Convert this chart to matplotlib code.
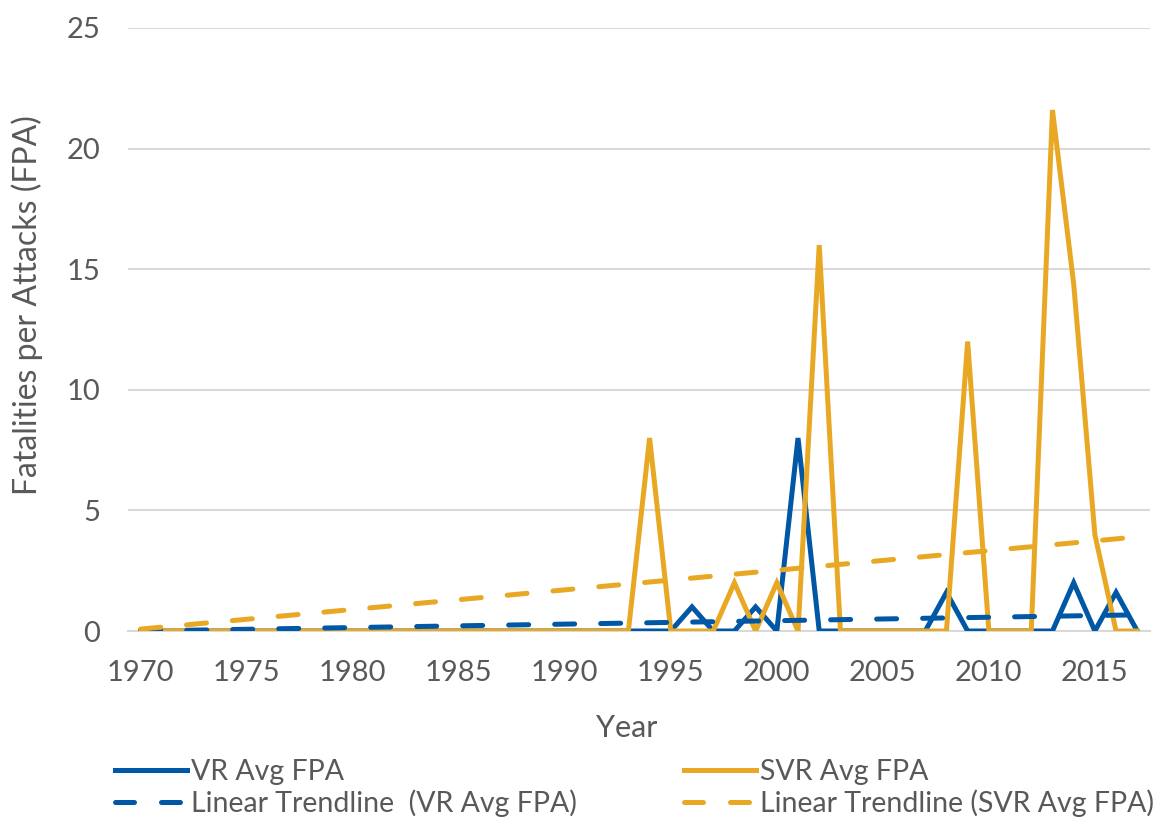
import numpy as np
import matplotlib
matplotlib.use("Agg")
import matplotlib.pyplot as plt
from matplotlib.lines import Line2D

years = list(range(1970, 2018))
vr_nonzero = {1996: 1.0, 1999: 1.0, 2001: 8.0, 2008: 1.6, 2014: 2.0, 2016: 1.6}
svr_nonzero = {1994: 8.0, 1998: 2.0, 2000: 2.0, 2002: 16.0, 2009: 12.0,
               2013: 21.6, 2014: 14.4, 2015: 4.0}
vr_avg_fpa = [vr_nonzero.get(y, 0.0) for y in years]
svr_avg_fpa = [svr_nonzero.get(y, 0.0) for y in years]

trend_years = [1970, 2017]
vr_trend = [0.0, 0.67]
svr_trend = [0.08, 3.9]

y_ticks = [0, 5, 10, 15, 20, 25]
x_ticks = [1970, 1975, 1980, 1985, 1990, 1995, 2000, 2005, 2010, 2015]

BLUE = "#0057A5"
GOLD = "#E8A823"
TXT = "#595959"
FONT = "Lato"

plt.rcParams['font.family'] = [FONT, 'DejaVu Sans']

fig = plt.figure(figsize=(11.61, 8.18), dpi=100)
ax = fig.add_axes([128/1161, 1-631/818, (1150-128)/1161, (631-28)/818])

lw = 3.6
dash = (4.0, 5.2)
ax.plot(years, vr_avg_fpa, color=BLUE, lw=lw, solid_joinstyle='miter', zorder=3)
ax.plot(years, svr_avg_fpa, color=GOLD, lw=lw, solid_joinstyle='miter', zorder=4)
ax.plot(trend_years, vr_trend, color=BLUE, lw=lw, dashes=dash,
        dash_capstyle='round', zorder=5)
ax.plot(trend_years, svr_trend, color=GOLD, lw=lw, dashes=dash,
        dash_capstyle='round', zorder=6)

ax.set_xlim(1969.4, 2017.6)
ax.set_ylim(0, 25)
ax.set_yticks(y_ticks)
ax.set_xticks(x_ticks)
ax.grid(axis='y', color='#D9D9D9', lw=1.5, zorder=0)
ax.set_axisbelow(True)
for s in ['top', 'right', 'left']:
    ax.spines[s].set_visible(False)
ax.spines['bottom'].set_color('#D9D9D9')
ax.spines['bottom'].set_linewidth(1.5)
ax.tick_params(axis='both', length=0, labelsize=21, colors=TXT)
ax.tick_params(axis='y', pad=20)
ax.tick_params(axis='x', pad=21)

fig.text(27/1161, 1-305/818, "Fatalities per Attacks (FPA)", rotation=90,
         ha='center', va='center', fontsize=23, color=TXT)
fig.text(627/1161, 1-728/818, "Year", ha='center', va='center',
         fontsize=22, color=TXT)

ldash = (3.8, 5.4)
h_vr = [Line2D([], [], color=BLUE, lw=lw),
        Line2D([], [], color=BLUE, lw=lw, dashes=ldash, dash_capstyle='round')]
h_svr = [Line2D([], [], color=GOLD, lw=lw),
         Line2D([], [], color=GOLD, lw=lw, dashes=ldash, dash_capstyle='round')]
lab_vr = ["VR Avg FPA", "Linear Trendline  (VR Avg FPA)"]
lab_svr = ["SVR Avg FPA", "Linear Trendline (SVR Avg FPA)"]

common = dict(loc='upper left', frameon=False, fontsize=20.5,
              handlelength=2.53, handletextpad=0.14, labelspacing=0.15,
              borderpad=0, borderaxespad=0)
leg1 = fig.legend(h_vr, lab_vr, bbox_to_anchor=(115/1161, 1-759/818), **common)
leg2 = fig.legend(h_svr, lab_svr, bbox_to_anchor=(684/1161, 1-759/818), **common)
for leg in (leg1, leg2):
    for t in leg.get_texts():
        t.set_color(TXT)

fig.savefig("out.png", dpi=100)
